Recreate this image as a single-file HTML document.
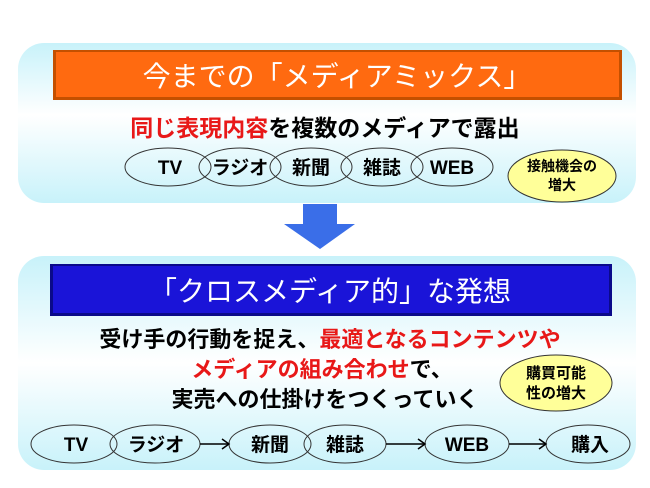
<!DOCTYPE html>
<html><head><meta charset="utf-8"><style>
html,body{margin:0;padding:0;background:#fff;}
svg{display:block;}
text{font-family:"Liberation Sans","Noto Sans CJK JP",sans-serif;}
</style></head><body>
<svg width="650" height="488" viewBox="0 0 650 488" xmlns="http://www.w3.org/2000/svg">
<defs>
<linearGradient id="pg" x1="0" y1="0" x2="0" y2="1">
<stop offset="0" stop-color="#c8f2fa"/><stop offset="0.45" stop-color="#ffffff"/><stop offset="1" stop-color="#c8f2fa"/>
</linearGradient>
<linearGradient id="pg2" x1="0" y1="0" x2="0" y2="1">
<stop offset="0" stop-color="#c8f2fa"/><stop offset="0.5" stop-color="#ffffff"/><stop offset="1" stop-color="#c8f2fa"/>
</linearGradient>
</defs>
<rect x="18" y="43" width="618" height="160" rx="26" fill="url(#pg)"/>
<rect x="18" y="256" width="618" height="214" rx="26" fill="url(#pg2)"/>
<rect x="53" y="50" width="569" height="50" fill="#c45000"/>
<rect x="56" y="52" width="563" height="45" fill="#ff6a10"/>
<text x="337" y="86" font-size="28" fill="#fff" text-anchor="middle">今までの「メディアミックス」</text>
<text x="325" y="136" font-size="23" font-weight="bold" text-anchor="middle"><tspan fill="#e81818">同じ表現内容</tspan><tspan fill="#000">を複数のメディアで露出</tspan></text>
<g fill="none" stroke="#333" stroke-width="1">
<ellipse cx="168" cy="167" rx="43" ry="19"/>
<ellipse cx="240" cy="167" rx="41" ry="19"/>
<ellipse cx="311" cy="167" rx="41" ry="19"/>
<ellipse cx="382" cy="167" rx="41" ry="19"/>
<ellipse cx="452" cy="167" rx="41" ry="19"/>
</g>
<g font-size="19" font-weight="bold" text-anchor="middle" fill="#000">
<text x="170" y="174">TV</text><text x="240" y="174">ラジオ</text><text x="311" y="174">新聞</text><text x="382" y="174">雑誌</text><text x="452" y="174">WEB</text>
</g>
<ellipse cx="562" cy="176" rx="54" ry="26" fill="#ffff99" stroke="#333"/>
<text x="562" y="171" font-size="14" font-weight="bold" text-anchor="middle">接触機会の</text>
<text x="562" y="190" font-size="14" font-weight="bold" text-anchor="middle">増大</text>
<polygon points="303,204 337,204 337,224 355,224 320,249 284,224 303,224" fill="#3a6ee8"/>
<rect x="50" y="264" width="562" height="52" fill="#0a0a8a"/>
<rect x="53" y="266" width="556" height="47" fill="#1a14d8"/>
<text x="330" y="301" font-size="28" fill="#fff" text-anchor="middle">「クロスメディア的」な発想</text>
<g font-size="22" font-weight="bold" text-anchor="middle">
<text x="330" y="347"><tspan fill="#000">受け手の行動を捉え、</tspan><tspan fill="#e81818">最適となるコンテンツや</tspan></text>
<text x="322" y="377"><tspan fill="#e81818">メディアの組み合わせ</tspan><tspan fill="#000">で、</tspan></text>
<text x="325" y="407" fill="#000">実売への仕掛けをつくっていく</text>
</g>
<ellipse cx="556" cy="383" rx="56" ry="28" fill="#ffff99" stroke="#333"/>
<text x="556" y="378" font-size="15" font-weight="bold" text-anchor="middle">購買可能</text>
<text x="556" y="398" font-size="15" font-weight="bold" text-anchor="middle">性の増大</text>
<g fill="none" stroke="#333" stroke-width="1">
<ellipse cx="74" cy="444" rx="43" ry="19"/>
<ellipse cx="155" cy="444" rx="45" ry="19"/>
<ellipse cx="270" cy="444" rx="41" ry="19"/>
<ellipse cx="345" cy="444" rx="41" ry="19"/>
<ellipse cx="467" cy="444" rx="42" ry="19"/>
<ellipse cx="588" cy="444" rx="42" ry="19"/>
</g>
<g fill="none" stroke="#000" stroke-width="1.5">
<line x1="200" y1="444" x2="228" y2="444"/>
<polyline points="222,439 229,444 222,449"/>
<line x1="386" y1="444" x2="424" y2="444"/>
<polyline points="418,439 425,444 418,449"/>
<line x1="509" y1="444" x2="545" y2="444"/>
<polyline points="539,439 546,444 539,449"/>
</g>
<g font-size="19" font-weight="bold" text-anchor="middle" fill="#000">
<text x="76" y="451">TV</text><text x="156" y="451">ラジオ</text><text x="270" y="451">新聞</text><text x="345" y="451">雑誌</text><text x="467" y="451">WEB</text><text x="590" y="451">購入</text>
</g>
</svg>
</body></html>
